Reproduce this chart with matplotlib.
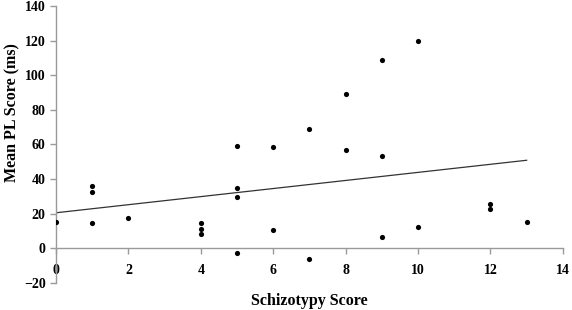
import numpy as np
import matplotlib
matplotlib.use("Agg")
import matplotlib.pyplot as plt

# schizotypy score vs mean PL score
schizotypy = [0, 1, 1, 1, 2, 4, 4, 4, 5, 5, 5, 5, 6, 6, 7, 7, 8, 8, 9, 9, 9, 10, 10, 12, 12, 13]
pl_score = [15.4, 36.2, 32.4, 14.8, 17.7, 14.8, 11.0, 8.3, 59.3, 35.0, 29.5, -2.5,
            58.8, 10.6, 69.0, -6.3, 89.0, 57.0, 108.7, 53.2, 6.8, 120.0, 12.4, 25.5, 22.8, 15.4]

xticks = [0, 2, 4, 6, 8, 10, 12, 14]
yticks = [-20, 0, 20, 40, 60, 80, 100, 120, 140]

plt.rcParams['font.family'] = ['Liberation Serif', 'DejaVu Serif']

fig = plt.figure(figsize=(5.72, 3.10), dpi=100)
ax = fig.add_axes([0.098, 0.087, 0.886, 0.894])

ax.scatter(schizotypy, pl_score, s=14, color='black', zorder=3, linewidths=0)

# linear trend line
slope, icpt = np.polyfit(schizotypy, pl_score, 1)
xs = np.array([min(schizotypy), max(schizotypy)])
ax.plot(xs, icpt + slope * xs, color='#333333', lw=0.9)

ax.set_xlim(0, 14)
ax.set_ylim(-20, 140)
ax.set_xticks(xticks)
ax.set_yticks(yticks)

ax.spines['top'].set_visible(False)
ax.spines['right'].set_visible(False)
ax.spines['bottom'].set_position(('data', 0))
for sp in ('left', 'bottom'):
    ax.spines[sp].set_color('#9a9a9a')
    ax.spines[sp].set_linewidth(1.0)

ax.tick_params(axis='both', colors='#9a9a9a', length=4, width=1.0,
               labelcolor='black', labelsize=10)
ax.tick_params(axis='x', pad=7)
for lab in ax.get_xticklabels() + ax.get_yticklabels():
    lab.set_fontweight('bold')

ax.set_xlabel('Schizotypy Score', fontsize=11.5, fontweight='bold')
ax.xaxis.set_label_coords(0.5, -0.035)
ax.set_ylabel('Mean PL Score (ms)', fontsize=11.5, fontweight='bold')
ax.yaxis.set_label_coords(-0.07, 0.614)

fig.savefig('out.png', dpi=100)
